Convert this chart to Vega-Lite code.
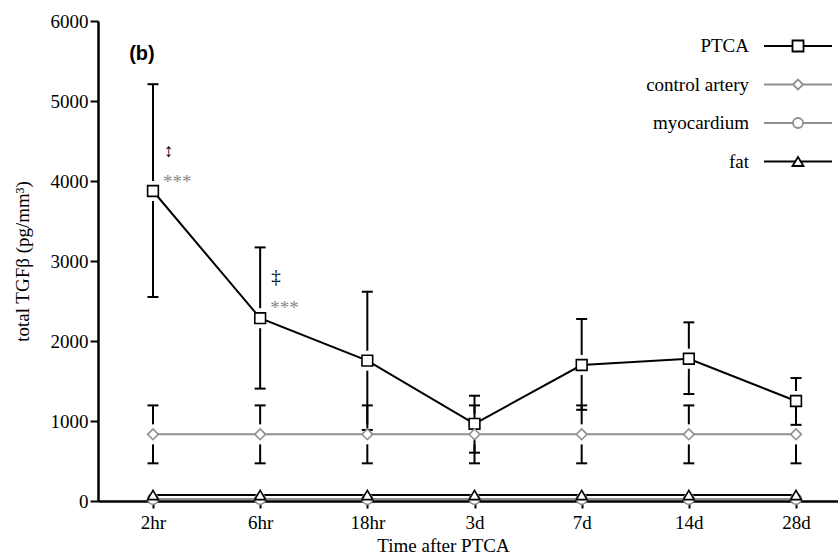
{
  "$schema": "https://vega.github.io/schema/vega-lite/v6.json",
  "autosize": {"type": "none"},
  "width": 740,
  "height": 480,
  "padding": {"left": 98, "top": 21, "right": 0, "bottom": 54},
  "background": "white",
  "config": {
    "view": {"stroke": null},
    "axis": {"grid": false, "domainColor": "black", "tickColor": "black", "labelColor": "black", "titleColor": "black",
      "labelFont": "Liberation Serif", "titleFont": "Liberation Serif", "labelFontSize": 19, "titleFontSize": 19, "titleFontWeight": "normal",
      "domainWidth": 2.5, "tickWidth": 2},
    "legend": {
      "orient": "none", "legendX": 519, "legendY": 14, "title": null, "padding": 0,
      "symbolSize": 400, "symbolOffset": 170, "labelAlign": "right", "labelOffset": -60,
      "symbolStrokeWidth": 1.8, "symbolOpacity": 1,
      "labelFont": "Liberation Serif", "labelFontSize": 19, "labelColor": "black", "rowPadding": 17.5, "labelLimit": 300
    }
  },
  "resolve": {"scale": {"shape": "independent", "stroke": "independent"}},
  "datasets": {
    "main": [
      {"series": "PTCA", "time": "2hr", "mean": 3875, "lo": 2550, "hi": 5210},
      {"series": "PTCA", "time": "6hr", "mean": 2285, "lo": 1405, "hi": 3170},
      {"series": "PTCA", "time": "18hr", "mean": 1754, "lo": 888, "hi": 2616},
      {"series": "PTCA", "time": "3d", "mean": 965, "lo": 604, "hi": 1316},
      {"series": "PTCA", "time": "7d", "mean": 1700, "lo": 1140, "hi": 2275},
      {"series": "PTCA", "time": "14d", "mean": 1778, "lo": 1337, "hi": 2233},
      {"series": "PTCA", "time": "28d", "mean": 1250, "lo": 952, "hi": 1537},
      {"series": "control artery", "time": "2hr", "mean": 833, "lo": 471, "hi": 1195},
      {"series": "control artery", "time": "6hr", "mean": 833, "lo": 471, "hi": 1195},
      {"series": "control artery", "time": "18hr", "mean": 833, "lo": 471, "hi": 1195},
      {"series": "control artery", "time": "3d", "mean": 833, "lo": 471, "hi": 1195},
      {"series": "control artery", "time": "7d", "mean": 833, "lo": 471, "hi": 1195},
      {"series": "control artery", "time": "14d", "mean": 833, "lo": 471, "hi": 1195},
      {"series": "control artery", "time": "28d", "mean": 833, "lo": 471, "hi": 1195},
      {"series": "myocardium", "time": "2hr", "mean": 25},
      {"series": "myocardium", "time": "6hr", "mean": 25},
      {"series": "myocardium", "time": "18hr", "mean": 25},
      {"series": "myocardium", "time": "3d", "mean": 25},
      {"series": "myocardium", "time": "7d", "mean": 25},
      {"series": "myocardium", "time": "14d", "mean": 25},
      {"series": "myocardium", "time": "28d", "mean": 25},
      {"series": "fat", "time": "2hr", "mean": 75},
      {"series": "fat", "time": "6hr", "mean": 75},
      {"series": "fat", "time": "18hr", "mean": 75},
      {"series": "fat", "time": "3d", "mean": 75},
      {"series": "fat", "time": "7d", "mean": 75},
      {"series": "fat", "time": "14d", "mean": 75},
      {"series": "fat", "time": "28d", "mean": 75}
    ],
    "daggers": [
      {"time": "2hr", "y": 4375, "label": "↕"},
      {"time": "6hr", "y": 2800, "label": "‡"}
    ],
    "stars": [
      {"time": "2hr", "y": 3990, "label": "***"},
      {"time": "6hr", "y": 2410, "label": "***"}
    ],
    "panel": [
      {"time": "2hr", "y": 5590, "label": "(b)"}
    ]
  },
  "encoding": {
    "x": {"field": "time", "type": "nominal",
      "scale": {"type": "point", "domain": ["2hr", "6hr", "18hr", "3d", "7d", "14d", "28d"], "range": [0, 753], "padding": 0.513},
      "axis": {"title": "Time after PTCA", "labelAngle": 0, "tickSize": 7, "labelPadding": 5, "titleX": 345, "titleY": 50, "titleBaseline": "alphabetic"}},
    "y": {"type": "quantitative",
      "scale": {"domain": [0, 6000], "nice": false},
      "axis": {"title": "total TGFβ (pg/mm³)", "format": "d", "values": [0, 1000, 2000, 3000, 4000, 5000, 6000], "tickSize": 8, "labelPadding": 2, "titleX": -76, "titleY": 240, "titleBaseline": "middle"}}
  },
  "layer": [
    {
      "mark": {"type": "rule", "color": "black", "strokeWidth": 2.5},
      "encoding": {"x": null, "y": {"datum": 6000}}
    },
    {
      "data": {"name": "main"},
      "transform": [{"filter": "datum.lo != null"}],
      "mark": {"type": "rule", "color": "black", "strokeWidth": 2, "y2Offset": -10},
      "encoding": {"y": {"field": "hi"}, "y2": {"field": "mean"}}
    },
    {
      "data": {"name": "main"},
      "transform": [{"filter": "datum.lo != null"}],
      "mark": {"type": "rule", "color": "black", "strokeWidth": 2, "yOffset": 10},
      "encoding": {"y": {"field": "mean"}, "y2": {"field": "lo"}}
    },
    {
      "data": {"name": "main"},
      "transform": [{"filter": "datum.lo != null"}],
      "mark": {"type": "tick", "orient": "horizontal", "color": "black", "size": 11, "thickness": 2, "opacity": 1},
      "encoding": {"y": {"field": "hi"}}
    },
    {
      "data": {"name": "main"},
      "transform": [{"filter": "datum.lo != null"}],
      "mark": {"type": "tick", "orient": "horizontal", "color": "black", "size": 11, "thickness": 2, "opacity": 1},
      "encoding": {"y": {"field": "lo"}}
    },
    {
      "data": {"name": "main"},
      "mark": {"type": "line", "strokeWidth": 2},
      "encoding": {
        "y": {"field": "mean"},
        "stroke": {"field": "series", "type": "nominal",
          "scale": {"domain": ["PTCA", "control artery", "myocardium", "fat"], "range": ["black", "#8f8f8f", "#8f8f8f", "black"]},
          "legend": null}
      }
    },
    {
      "data": {"name": "main"},
      "mark": {"type": "point", "fill": "white", "opacity": 1, "strokeWidth": 1.6, "size": 115},
      "encoding": {
        "y": {"field": "mean"},
        "stroke": {"field": "series", "type": "nominal",
          "scale": {"domain": ["PTCA", "control artery", "myocardium", "fat"], "range": ["black", "#8f8f8f", "#8f8f8f", "black"]},
          "legend": null},
        "shape": {"field": "series", "type": "nominal",
          "scale": {"domain": ["PTCA", "control artery", "myocardium", "fat"], "range": ["square", "diamond", "circle", "triangle-up"]},
          "legend": null}
      }
    },
    {
      "data": {"name": "main"},
      "transform": [{"filter": "datum.series == 'none'"}],
      "mark": {"type": "point", "filled": false, "strokeWidth": 1.8},
      "encoding": {
        "y": {"field": "mean"},
        "stroke": {"field": "series", "type": "nominal",
          "scale": {"domain": ["PTCA", "control artery", "myocardium", "fat"], "range": ["black", "#8f8f8f", "#8f8f8f", "black"]}},
        "shape": {"field": "series", "type": "nominal",
          "scale": {"domain": ["PTCA", "control artery", "myocardium", "fat"],
            "range": ["M-3.4,0H-0.55M0.55,0H3.4M-0.55,-0.55H0.55V0.55H-0.55Z", "M-3.4,0H-0.5M0.5,0H3.4M-0.5,0L0,-0.5L0.5,0L0,0.5Z", "M-3.4,0H-0.5M0.5,0H3.4M-0.5,0A0.5,0.5,0,1,0,0.5,0A0.5,0.5,0,1,0,-0.5,0Z", "M-3.4,0H-0.28M0.28,0H3.4M0,-0.45L0.55,0.45L-0.55,0.45Z"]}}
      }
    },
    {
      "data": {"name": "daggers"},
      "mark": {"type": "text", "align": "left", "baseline": "middle", "dx": 11, "font": "Liberation Serif", "fontSize": 19, "color": "black"},
      "encoding": {"y": {"field": "y"}, "text": {"field": "label"}}
    },
    {
      "data": {"name": "stars"},
      "mark": {"type": "text", "align": "left", "baseline": "middle", "dx": 10, "font": "Liberation Serif", "fontSize": 19, "color": "#8a8a8a"},
      "encoding": {"y": {"field": "y"}, "text": {"field": "label"}}
    },
    {
      "data": {"name": "panel"},
      "mark": {"type": "text", "align": "center", "baseline": "middle", "dx": -11, "font": "Liberation Sans", "fontWeight": "bold", "fontSize": 20, "color": "black"},
      "encoding": {"y": {"field": "y"}, "text": {"field": "label"}}
    }
  ]
}
